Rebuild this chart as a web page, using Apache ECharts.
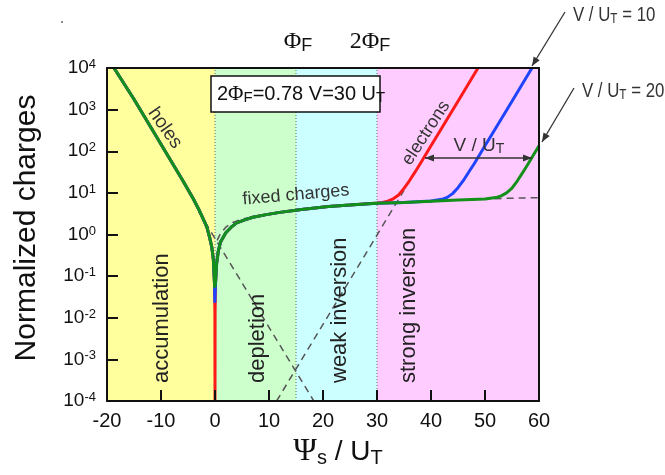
<!DOCTYPE html>
<html><head><meta charset="utf-8">
<script src="https://cdn.jsdelivr.net/npm/echarts@6/dist/echarts.min.js"></script>
<style>html,body{margin:0;padding:0;background:#fff}#c{width:665px;height:475px}</style>
</head><body><div id="c"></div>
<script>
// ---------- data ----------
const xTickValues = [-20, -10, 0, 10, 20, 30, 40, 50, 60];
const yTickExponents = [-4, -3, -2, -1, 0, 1, 2, 3, 4];
const regionBounds = [-20, 0, 15, 30, 60];
const regionColors = ['#ffff9e', '#ccffcc', '#ccffff', '#ffccff'];
const regionNames = ['accumulation', 'depletion', 'weak inversion', 'strong inversion'];
const markerPsi = [0, 15, 30];

// V/UT = 20 (green)
const greenPsi = [-18.7,-15,-10,-6,-4,-3,-2,-1.5,-1,-0.6,-0.3,-0.1,-0.05,0.05,0.1,0.3,0.6,1,2,3,4,5.5,7,9.5,12,16,21,25,30,35,40,45,50,52,53,54,55,56,57,58,59,60];
const greenQ   = [10000,1780,148,20,7.1,4.0,2.1,1.5,0.85,0.5,0.25,0.07,0.053,0.053,0.07,0.2,0.39,0.65,1.1,1.5,1.9,2.25,2.6,3.0,3.4,4.0,4.7,5.1,5.6,5.9,6.3,6.7,7.1,7.7,8.5,10,13,19.5,31,50,82,135];
// V/UT = 10 (blue)
const bluePsi = [-18.7,-15,-10,-6,-4,-3,-2,-1.5,-1,-0.6,-0.3,-0.1,-0.03,0.03,0.1,0.3,0.6,1,2,3,4,5.5,7,9.5,12,16,21,25,30,35,40,42,43,44,45,46,47,48,50,52,55,58.7];
const blueQ   = [10000,1780,148,20,7.1,4.0,2.1,1.5,0.85,0.5,0.25,0.07,0.023,0.023,0.07,0.2,0.39,0.65,1.1,1.5,1.9,2.25,2.6,3.0,3.4,4.0,4.7,5.1,5.6,5.9,6.4,7.0,7.8,9.6,13.3,19.9,31.7,50,135,363,1590,10000];
// V/UT = 0 (red, electrons)
const redPsi = [-18.7,-15,-10,-6,-4,-3,-2,-1.5,-1,-0.6,-0.3,-0.1,-0.02,0,0.02,0.1,0.3,0.6,1,2,3,4,5.5,7,9.5,12,16,21,25,30,31,32,33,34,35,36,37,38,40,42,45,48.7];
const redQ   = [10000,1780,148,20,7.1,4.0,2.1,1.5,0.85,0.5,0.25,0.07,0.014,0.0001,0.014,0.07,0.2,0.39,0.65,1.1,1.5,1.9,2.25,2.6,3.0,3.4,4.0,4.7,5.1,5.7,5.9,6.3,7.2,8.9,12.8,19.5,31,50,135,363,1590,10000];
// dashed asymptotes
const holesDashPsi = [-3, 4.4, 10, 18.3];
const holesDashQ   = [3.5, 0.093, 0.0059, 0.0001];
const electronDashPsi = [11.4, 20, 30, 35];
const electronDashQ   = [0.0001, 0.0069, 0.97, 11.5];
const fixedDashPsi = [0.4, 1, 2, 3.3, 5, 8, 12, 20, 30, 40, 50, 55, 60];
const fixedDashQ   = [0.72, 1.05, 1.5, 1.95, 2.35, 2.8, 3.4, 4.6, 5.6, 6.3, 7.1, 7.45, 7.7];

// ---------- chart ----------
const S = '"Liberation Sans", Arial, sans-serif';
const SERIF = '"Liberation Serif", "Times New Roman", serif';
const zip = (a, b) => a.map((v, i) => [v, b[i]]);
const chart = echarts.init(document.getElementById('c'));

const axisLineStyle = {show: true, onZero: false, lineStyle: {color: '#111', width: 2}};
const curve = (name, psi, q, color, z) => ({
  name, type: 'line', data: zip(psi, q), symbol: 'none', z,
  lineStyle: {color, width: 3}, silent: true
});
const dashed = (name, psi, q) => ({
  name, type: 'line', data: zip(psi, q), symbol: 'none', z: 3,
  lineStyle: {color: '#555', width: 1.5, type: [7, 5]}, silent: true
});

const series = [
  {
    type: 'line', data: [], z: 1, silent: true,
    markArea: {
      silent: true,
      data: regionColors.map((c, i) => [
        {xAxis: regionBounds[i], itemStyle: {color: c}},
        {xAxis: regionBounds[i + 1]}
      ])
    }
  },
  ...markerPsi.map(p => ({
    type: 'line', data: [[p, 1e-4], [p, 1e4]], symbol: 'none', z: 2, silent: true,
    lineStyle: {color: '#666', width: 1, type: [1, 2]}
  })),
  dashed('holesDash', holesDashPsi, holesDashQ),
  dashed('electronDash', electronDashPsi, electronDashQ),
  dashed('fixedDash', fixedDashPsi, fixedDashQ),
  curve('V0', redPsi, redQ, '#ff1a1a', 4),
  curve('V10', bluePsi, blueQ, '#1f44ff', 5),
  curve('V20', greenPsi, greenQ, '#13901a', 6)
];

chart.setOption({
  animation: false,
  backgroundColor: '#fff',
  grid: {left: 107, right: 126, top: 68, bottom: 74},
  xAxis: [
    {type: 'value', min: -20, max: 60, interval: 10, z: 10,
     axisLine: axisLineStyle,
     axisTick: {show: true, inside: true, length: 11, lineStyle: {color: '#111', width: 2}},
     axisLabel: {fontSize: 20, fontFamily: S, color: '#111', margin: 10,
       customValues: xTickValues},
     splitLine: {show: false}},
    {type: 'value', position: 'top', min: -20, max: 60, z: 10,
     axisLine: axisLineStyle, axisTick: {show: false}, axisLabel: {show: false}, splitLine: {show: false}}
  ],
  yAxis: [
    {type: 'log', logBase: 10, min: 1e-4, max: 1e4, splitNumber: 8, z: 10,
     axisLine: axisLineStyle,
     axisTick: {show: true, inside: true, length: 11, lineStyle: {color: '#111', width: 2}},
     axisLabel: {
       margin: 11,
       formatter: v => {
         const e = Math.round(Math.log10(v));
         return yTickExponents.includes(e) ? '{b|10}{s|' + e + '}' : '';
       },
       rich: {
         b: {fontSize: 19, fontFamily: S, color: '#111', lineHeight: 20},
         s: {fontSize: 13, fontFamily: S, color: '#111', lineHeight: 6, verticalAlign: 'top'}
       }
     },
     splitLine: {show: false}},
    {type: 'log', logBase: 10, min: 1e-4, max: 1e4, position: 'right', z: 10,
     axisLine: axisLineStyle, axisTick: {show: false}, axisLabel: {show: false}, splitLine: {show: false}}
  ],
  series
});

// ---------- annotations ----------
function arrowEls(x1, y1, x2, y2, both) {
  const els = [{type: 'line', shape: {x1, y1, x2, y2}, style: {stroke: '#333', lineWidth: 1.3}, z: 100}];
  const head = (tx, ty, fx, fy) => {
    const dx = tx - fx, dy = ty - fy, L = Math.hypot(dx, dy), ux = dx / L, uy = dy / L;
    const len = 9, w = 3.6, bx = tx - ux * len, by = ty - uy * len;
    return {type: 'polygon', z: 100, shape: {points: [[tx, ty], [bx - uy * w, by + ux * w], [bx + uy * w, by - ux * w]]},
            style: {fill: '#333'}};
  };
  els.push(head(x2, y2, x1, y1));
  if (both) els.push(head(x1, y1, x2, y2));
  return els;
}
const txt = (text, x, y, o) => Object.assign({
  type: 'text', x, y, z: 100,
  style: Object.assign({text, fontFamily: S, fontSize: 20, fill: '#222', align: 'center', verticalAlign: 'middle'}, o.style || {})
}, o.el || {});

const regionTextX = [-9.8, 8.0, 23.1, 35.9];
const els = [];
regionNames.forEach((n, i) => {
  const p = chart.convertToPixel({xAxisIndex: 0, yAxisIndex: 0}, [regionTextX[i], 1e-4]);
  els.push(txt(n, p[0], 383, {el: {rotation: Math.PI / 2}, style: {fontSize: 22, align: 'left', fill: '#222'}}));
});
els.push(txt('holes', 165, 128, {el: {rotation: -55 * Math.PI / 180}, style: {fontSize: 19, fill: '#333'}}));
els.push(txt('fixed charges', 296, 195, {el: {rotation: 5 * Math.PI / 180}, style: {fontSize: 18, fill: '#333'}}));
els.push(txt('electrons', 426, 133, {el: {rotation: 57 * Math.PI / 180}, style: {fontSize: 18, fill: '#333'}}));

// box
els.push({type: 'rect', z: 100, shape: {x: 211, y: 76, width: 169, height: 36}, style: {fill: '#fff', stroke: '#111', lineWidth: 1.5}});
els.push({type: 'text', z: 101, x: 217, y: 94, style: {
  text: '{n|2}{p|Φ}{u|F}{n|=0.78 V=30 U}{u|T}', align: 'left', verticalAlign: 'middle',
  rich: {
    n: {fontSize: 20, fontFamily: S, fill: '#111', lineHeight: 22},
    p: {fontSize: 21, fontFamily: SERIF, fill: '#111', lineHeight: 22},
    u: {fontSize: 15, fontFamily: S, fill: '#111', lineHeight: 6, verticalAlign: 'bottom'}
  }}});

// top labels
const topRich = {
  n: {fontSize: 24, fontFamily: SERIF, fill: '#111', lineHeight: 26},
  u: {fontSize: 18, fontFamily: S, fill: '#111', lineHeight: 10, verticalAlign: 'bottom'}
};
els.push({type: 'text', z: 100, x: 298, y: 42, style: {text: '{n|Φ}{u|F}', align: 'center', verticalAlign: 'middle', rich: topRich}});
els.push({type: 'text', z: 100, x: 370, y: 42, style: {text: '{n|2Φ}{u|F}', align: 'center', verticalAlign: 'middle', rich: topRich}});

// V/UT labels (condensed)
const vRich = {
  n: {fontSize: 20, fontFamily: S, fill: '#333', lineHeight: 22},
  u: {fontSize: 14, fontFamily: S, fill: '#333', lineHeight: 6, verticalAlign: 'bottom'}
};
els.push({type: 'text', z: 100, x: 573, y: 15, scaleX: 0.84, style: {text: '{n|V / U}{u|T}{n| = 10}', align: 'left', verticalAlign: 'middle', rich: vRich}});
els.push({type: 'text', z: 100, x: 582, y: 91, scaleX: 0.84, style: {text: '{n|V / U}{u|T}{n| = 20}', align: 'left', verticalAlign: 'middle', rich: vRich}});
els.push(...arrowEls(565, 12, 532, 66, false));
els.push(...arrowEls(574, 88, 542, 142, false));
els.push(...arrowEls(425, 158, 532, 158, true));
els.push({type: 'text', z: 100, x: 479, y: 146, style: {text: '{n|V / U}{u|T}', align: 'center', verticalAlign: 'middle',
  rich: {n: {fontSize: 19, fontFamily: S, fill: '#333', lineHeight: 20}, u: {fontSize: 14, fontFamily: S, fill: '#333', lineHeight: 6, verticalAlign: 'bottom'}}}});

// axis titles
els.push(txt('Normalized charges', 27, 228, {el: {rotation: Math.PI / 2}, style: {fontSize: 30, fill: '#111'}}));
els.push({type: 'text', z: 100, x: 338, y: 452, style: {text: '{p|Ψ}{u|s}{n| / U}{u|T}', align: 'center', verticalAlign: 'middle',
  rich: {
    p: {fontSize: 32, fontFamily: SERIF, fill: '#111', lineHeight: 32},
    n: {fontSize: 28, fontFamily: S, fill: '#111', lineHeight: 32},
    u: {fontSize: 20, fontFamily: S, fill: '#111', lineHeight: 10, verticalAlign: 'bottom'}
  }}});
els.push({type: 'circle', z: 100, shape: {cx: 62, cy: 22, r: 1}, style: {fill: '#666'}});

chart.setOption({graphic: {elements: els}});
</script></body></html>
